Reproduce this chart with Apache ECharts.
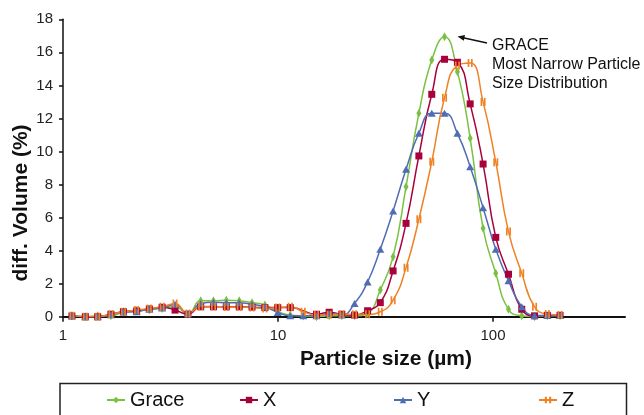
<!DOCTYPE html>
<html>
<head>
<meta charset="utf-8">
<script src="https://cdn.jsdelivr.net/npm/echarts@6/dist/echarts.min.js"></script>
<style>
  html, body { margin: 0; padding: 0; background: #fff; }
  #chart { width: 644px; height: 415px; }
</style>
</head>
<body>
<div id="chart"></div>
<script>
// particle size bins (µm)
const sizes = [
  1.10, 1.27, 1.45, 1.67, 1.91, 2.20, 2.52, 2.89, 3.32, 3.81,
  4.37, 5.01, 5.75, 6.60, 7.57, 8.69, 9.97, 11.4, 13.1, 15.1,
  17.3, 19.8, 22.7, 26.1, 29.9, 34.3, 39.4, 45.2, 51.9, 59.5,
  68.3, 78.3, 89.9, 103, 118, 136, 156, 179, 205
]
const seriesNames = ['Grace', 'X', 'Y', 'Z']
const grace = [
  0.05, 0, 0.05, 0.05, 0.3, 0.38, 0.42, 0.5, 0.6, 0.15,
  0.97, 0.97, 1.0, 0.97, 0.85, 0.71, 0.3, 0.1, 0.04, 0,
  0.05, 0.05, 0.05, 0.2, 1.62, 3.63, 7.87, 12.31, 15.54, 16.95,
  14.83, 10.8, 5.35, 2.63, 0.45, 0.05, 0, 0.05, 0.05
]
const xVals = [
  0.04, 0, 0, 0.15, 0.3, 0.35, 0.47, 0.57, 0.4, 0.15,
  0.6, 0.6, 0.6, 0.6, 0.58, 0.55, 0.55, 0.55, null, 0.15,
  0.27, 0.15, 0.1, 0.36, 0.85, 2.77, 5.65, 9.73, 13.46, 15.58,
  15.4, 12.88, 9.24, 4.8, 2.57, 0.45, 0.05, 0.08, 0.08
]
const yVals = [
  0.05, 0, 0, 0.12, 0.28, 0.3, 0.47, 0.52, 0.75, 0.18,
  0.8, 0.87, 0.85, 0.85, 0.75, 0.6, 0.25, 0.05, 0.05, 0.05,
  0.2, 0.1, 0.8, 2.1, 4.08, 6.4, 8.92, 11.1, 12.31, 12.31,
  11.1, 9.08, 6.6, 4.08, 2.18, 0.6, 0.08, 0.08, 0.08
]
const zVals = [
  0.05, 0, 0, 0.15, 0.3, 0.4, 0.5, 0.6, 0.8, 0.2,
  0.62, 0.62, 0.58, 0.58, 0.55, 0.5, 0.55, 0.6, 0.3, 0.1,
  0.12, 0.15, 0.15, 0.15, 0.3, 1.0, 2.97, 5.9, 9.38, 13.25,
  15.2, 15.35, 13.0, 9.35, 5.15, 2.63, 0.6, 0.16, 0.1
]
const xTicks = [1, 10, 100]
const yTicks = { min: 0, max: 18, step: 2 }

const font = 'Arial, "Liberation Sans", sans-serif'
const colors = ['#7ac143', '#a8003b', '#4f6cb5', '#ee8224']
const symbols = [
  'diamond',
  'rect',
  'triangle',
  'path://M0,0h1.6v8h-1.6z M3.2,0h1.6v8h-1.6z'
]
const symbolSizes = [[5, 9], 7, [8, 7], [5, 8]]
const allValues = [grace, xVals, yVals, zVals]

const toPairs = (vals) => sizes.map((s, i) => [s, vals[i]])

const chart = echarts.init(document.getElementById('chart'))

const series = seriesNames.map((name, k) => ({
  name,
  type: 'line',
  smooth: 0.5,
  connectNulls: true,
  data: toPairs(allValues[k]),
  symbol: symbols[k],
  symbolSize: symbolSizes[k],
  showAllSymbol: true,
  lineStyle: { color: colors[k], width: 1.5 },
  itemStyle: { color: colors[k], borderWidth: 0 },
  emphasis: { disabled: true }
}))

const legendLefts = [106, 239, 393, 538]
const legends = seriesNames.map((name, k) => ({
  data: [name],
  left: legendLefts[k],
  top: 390,
  padding: 0,
  itemWidth: 18,
  itemHeight: 8,
  itemGap: 0,
  textStyle: { fontFamily: font, fontSize: 20, color: '#111' },
  selectedMode: false
}))

const option = {
  animation: false,
  backgroundColor: '#fff',
  grid: { left: 63, right: 19, top: 19.3, bottom: 98.3, containLabel: false, outerBoundsMode: 'none' },
  xAxis: {
    type: 'log',
    logBase: 10,
    min: 1,
    max: 411,
    name: 'Particle size (µm)',
    nameLocation: 'middle',
    nameGap: 32,
    nameTextStyle: { fontFamily: font, fontSize: 21, fontWeight: 'bold', color: '#111', padding: [0, 0, 0, 84] },
    axisLine: { lineStyle: { color: '#111', width: 2 } },
    axisTick: { show: true, length: 5, customValues: xTicks, lineStyle: { color: '#111', width: 1.5 } },
    axisLabel: { margin: 12, customValues: xTicks, fontFamily: font, fontSize: 15, color: '#222' },
    minorTick: { show: false },
    splitLine: { show: false }
  },
  yAxis: {
    type: 'value',
    min: yTicks.min,
    max: yTicks.max,
    interval: yTicks.step,
    name: 'diff. Volume (%)',
    nameLocation: 'middle',
    nameGap: 31,
    nameMoveOverlap: false,
    nameTextStyle: { fontFamily: font, fontSize: 21, fontWeight: 'bold', color: '#111', padding: [0, 70, 0, 0] },
    axisLine: { show: true, lineStyle: { color: '#111', width: 1.5 } },
    axisTick: { show: true, length: 4, lineStyle: { color: '#111', width: 1.5 } },
    axisLabel: { margin: 10, fontFamily: font, fontSize: 15, color: '#222' },
    splitLine: { show: false }
  },
  legend: legends,
  series,
  graphic: [
    {
      type: 'rect',
      shape: { x: 60, y: 383.5, width: 566.5, height: 50 },
      style: { fill: 'none', stroke: '#222', lineWidth: 1.5 },
      silent: true
    },
    {
      type: 'line',
      shape: { x1: 487, y1: 43, x2: 462, y2: 37.5 },
      style: { stroke: '#111', lineWidth: 1.3 },
      silent: true
    },
    {
      type: 'polygon',
      shape: { points: [[457.5, 36.5], [465, 35], [463.8, 40.8]] },
      style: { fill: '#111' },
      silent: true
    },
    {
      type: 'text',
      left: 492,
      top: 36,
      style: {
        text: 'GRACE\nMost Narrow Particle\nSize Distribution',
        fontFamily: font,
        fontSize: 16,
        lineHeight: 19,
        fill: '#111'
      },
      silent: true
    }
  ]
}

chart.setOption(option)
</script>
</body>
</html>
